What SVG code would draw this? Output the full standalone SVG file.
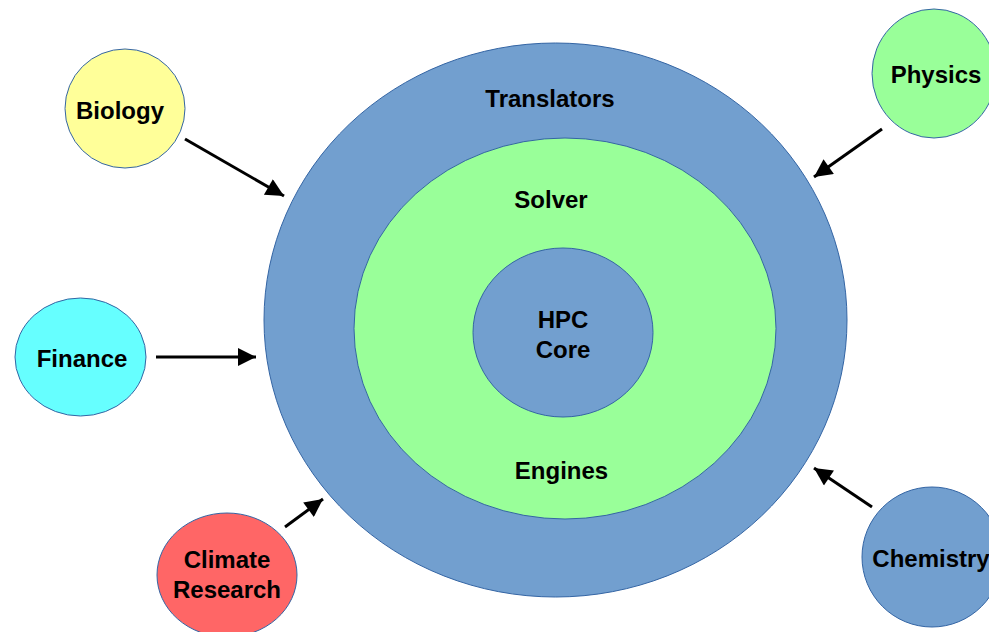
<svg xmlns="http://www.w3.org/2000/svg" width="989" height="632" viewBox="0 0 989 632">
  <defs>
    <marker id="arrowhead" viewBox="0 0 10 10" refX="10" refY="5" markerWidth="7" markerHeight="6" markerUnits="strokeWidth" orient="auto">
      <path d="M0,0 L10,5 L0,10 Z" fill="#000"/>
    </marker>
  </defs>
  <style>
    .ring { stroke: #3465a4; stroke-width: 1; }
    .blue { fill: #729fcf; }
    .green { fill: #99ff99; }
    .yellow { fill: #ffff99; }
    .cyan { fill: #66ffff; }
    .red { fill: #ff6666; }
    .label { font-family: "Liberation Sans", Arial, sans-serif; font-weight: bold; font-size: 24px; fill: #000; text-anchor: middle; }
    .conn { stroke: #000; stroke-width: 3; fill: none; marker-end: url(#arrowhead); }
  </style>
  <rect width="989" height="632" fill="#fff"/>

  <!-- concentric layers -->
  <g id="translators">
    <ellipse class="ring blue" cx="555.5" cy="320" rx="291.5" ry="277"/>
    <text class="label" x="550" y="107">Translators</text>
  </g>
  <g id="solver-engines">
    <ellipse class="ring green" cx="565" cy="328.5" rx="211" ry="190.5"/>
    <text class="label" x="551" y="208">Solver</text>
    <text class="label" x="561.5" y="479">Engines</text>
  </g>
  <g id="hpc-core">
    <ellipse class="ring blue" cx="563" cy="332.5" rx="90" ry="84.5"/>
    <text class="label" x="563" y="328">HPC</text>
    <text class="label" x="563" y="358">Core</text>
  </g>

  <!-- domain nodes -->
  <g id="biology">
    <ellipse class="ring yellow" cx="125" cy="108.5" rx="60" ry="59.5"/>
    <text class="label" x="120" y="119">Biology</text>
  </g>
  <g id="physics">
    <ellipse class="ring green" cx="934" cy="73.5" rx="62" ry="64.5"/>
    <text class="label" x="936" y="83">Physics</text>
  </g>
  <g id="finance">
    <ellipse class="ring cyan" cx="80.5" cy="357" rx="65.5" ry="59"/>
    <text class="label" x="82" y="367">Finance</text>
  </g>
  <g id="climate-research">
    <ellipse class="ring red" cx="227" cy="575" rx="70" ry="62"/>
    <text class="label" x="227" y="568">Climate</text>
    <text class="label" x="227" y="598">Research</text>
  </g>
  <g id="chemistry">
    <ellipse class="ring blue" cx="932" cy="557" rx="70" ry="70"/>
    <text class="label" x="931" y="567">Chemistry</text>
  </g>

  <!-- connectors -->
  <g id="connectors">
    <line class="conn" x1="185" y1="139" x2="284" y2="196"/>
    <line class="conn" x1="882" y1="129" x2="814" y2="177"/>
    <line class="conn" x1="156" y1="357" x2="256" y2="357"/>
    <line class="conn" x1="285" y1="527" x2="323" y2="499"/>
    <line class="conn" x1="872" y1="507" x2="814" y2="468"/>
  </g>
</svg>
